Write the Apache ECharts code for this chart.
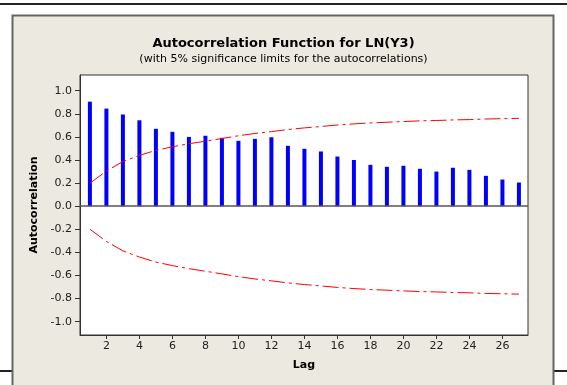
<!DOCTYPE html>
<html>
<head>
<meta charset="utf-8">
<title>Autocorrelation Function for LN(Y3)</title>
<script src="https://cdn.jsdelivr.net/npm/echarts@6/dist/echarts.min.js"></script>
<style>
  html, body { margin: 0; padding: 0; background: #ffffff; }
  #chart { width: 567px; height: 385px; }
</style>
</head>
<body>
<div id="chart"></div>
<script>
// Sample autocorrelations of LN(Y3), lags 1..27
const lags = [1, 2, 3, 4, 5, 6, 7, 8, 9, 10, 11, 12, 13, 14, 15, 16, 17, 18, 19, 20, 21, 22, 23, 24, 25, 26, 27];
const acf = [0.905, 0.845, 0.794, 0.744, 0.670, 0.644, 0.600, 0.610, 0.592, 0.566, 0.583, 0.597, 0.523, 0.497,
             0.474, 0.430, 0.400, 0.358, 0.341, 0.350, 0.324, 0.300, 0.333, 0.315, 0.263, 0.231, 0.205];
// 5% significance limit (upper); the lower limit is its mirror
const limit = [0.199, 0.305, 0.386, 0.440, 0.484, 0.514, 0.541, 0.563, 0.586, 0.610, 0.630, 0.646, 0.664, 0.678,
               0.690, 0.703, 0.713, 0.721, 0.727, 0.733, 0.739, 0.742, 0.747, 0.750, 0.755, 0.758, 0.761];
const yTicks = [-1.0, -0.8, -0.6, -0.4, -0.2, 0.0, 0.2, 0.4, 0.6, 0.8, 1.0];
const xTicks = [2, 4, 6, 8, 10, 12, 14, 16, 18, 20, 22, 24, 26];

const FONT = 'DejaVu Sans';
const panel = '#ece9e0';

const chart = echarts.init(document.getElementById('chart'), null, { renderer: 'canvas' });

const barData = lags.map((l, i) => [l, acf[i]]);
const upper = lags.map((l, i) => [l, limit[i]]);
const lower = lags.map((l, i) => [l, -limit[i]]);
const limitStyle = { color: '#ff0000', width: 1, type: [16, 4, 3, 4] };

chart.setOption({
  animation: false,
  backgroundColor: '#ffffff',
  graphic: [
    // rules of the surrounding page
    { type: 'rect', z: -10, shape: { x: 0, y: 3, width: 567, height: 2 }, style: { fill: '#222' } },
    { type: 'rect', z: -10, shape: { x: 0, y: 370, width: 567, height: 2 }, style: { fill: '#222' } },
    // graph panel
    { type: 'rect', z: -9, shape: { x: 12.5, y: 15.5, width: 541, height: 380 },
      style: { fill: panel, stroke: '#666', lineWidth: 2 } }
  ],
  title: {
    text: 'Autocorrelation Function for LN(Y3)',
    subtext: '(with 5% significance limits for the autocorrelations)',
    left: 'center',
    top: 32,
    itemGap: 4,
    textStyle: { fontFamily: FONT, fontWeight: 'bold', fontSize: 13, color: '#000' },
    subtextStyle: { fontFamily: FONT, fontSize: 11, color: '#000' }
  },
  grid: {
    left: 80, right: 39, top: 75, bottom: 50,
    show: true, backgroundColor: '#ffffff', borderColor: '#333', borderWidth: 1
  },
  xAxis: {
    type: 'value',
    min: 0.4, max: 27.55,
    name: 'Lag',
    nameLocation: 'middle',
    nameGap: 25,
    nameTextStyle: { fontFamily: FONT, fontWeight: 'bold', fontSize: 11, color: '#000' },
    axisLine: { show: true, onZero: false, lineStyle: { color: '#333', width: 1 } },
    axisTick: { show: true, length: 4, customValues: xTicks, lineStyle: { color: '#333' } },
    axisLabel: { customValues: xTicks, margin: 6, fontFamily: FONT, fontSize: 11, color: '#222' },
    splitLine: { show: false }
  },
  yAxis: {
    type: 'value',
    min: -1.115, max: 1.136,
    name: 'Autocorrelation',
    nameLocation: 'middle',
    nameGap: 37,
    nameTextStyle: { fontFamily: FONT, fontWeight: 'bold', fontSize: 11, color: '#000' },
    axisLine: { show: true, lineStyle: { color: '#333', width: 1 } },
    axisTick: { show: true, length: 5, customValues: yTicks, lineStyle: { color: '#333' } },
    axisLabel: {
      customValues: yTicks, margin: 8, fontFamily: FONT, fontSize: 11, color: '#222',
      formatter: v => v.toFixed(1)
    },
    splitLine: { show: false }
  },
  series: [
    {
      type: 'bar',
      data: barData,
      barWidth: 4,
      itemStyle: { color: '#0000ff' },
      markLine: {
        silent: true,
        symbol: 'none',
        label: { show: false },
        lineStyle: { color: '#555', width: 1.5, type: 'solid' },
        data: [{ yAxis: 0 }]
      },
      z: 3
    },
    {
      type: 'line', data: upper, symbol: 'none', lineStyle: limitStyle, z: 4
    },
    {
      type: 'line', data: lower, symbol: 'none', lineStyle: limitStyle, z: 4
    }
  ]
});
</script>
</body>
</html>
